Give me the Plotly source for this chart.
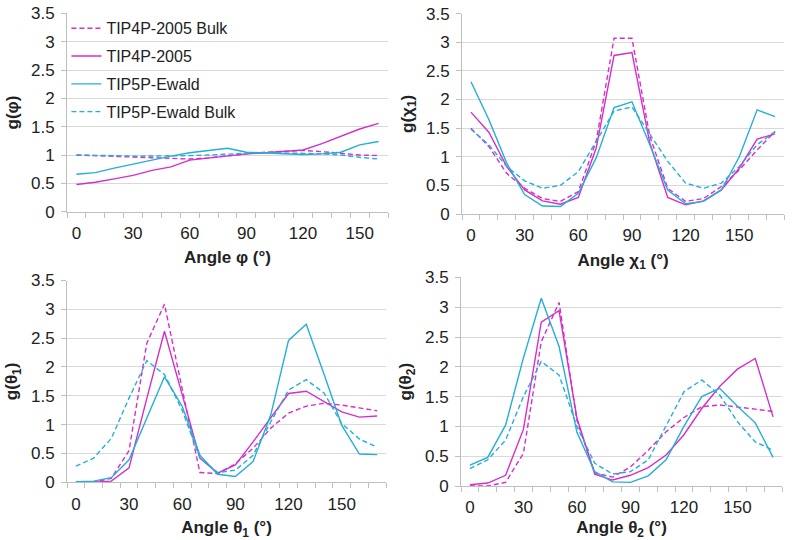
import plotly.graph_objects as go

# ---------------- data ----------------
angles_phi = [0, 10, 20, 30, 40, 50, 60, 70, 80, 90, 100, 110, 120, 130, 140, 150, 160]
angles = [0, 10, 20, 30, 40, 50, 60, 70, 80, 90, 100, 110, 120, 130, 140, 150, 160, 170]
tick_labels = [0, 30, 60, 90, 120, 150]

series_names = ["TIP4P-2005 Bulk", "TIP4P-2005", "TIP5P-Ewald", "TIP5P-Ewald Bulk"]

phi_tip4p_bulk = [1.00, 0.99, 0.98, 0.96, 0.95, 0.94, 0.93, 0.95, 0.99, 1.02, 1.05, 1.07, 1.08, 1.06, 1.03, 1.00, 0.99]
phi_tip4p = [0.48, 0.52, 0.58, 0.64, 0.73, 0.79, 0.91, 0.95, 0.99, 1.02, 1.04, 1.06, 1.09, 1.20, 1.33, 1.46, 1.56]
phi_tip5p = [0.66, 0.69, 0.77, 0.84, 0.92, 0.98, 1.04, 1.08, 1.12, 1.05, 1.04, 1.03, 1.01, 1.02, 1.05, 1.18, 1.24]
phi_tip5p_bulk = [1.00, 1.00, 0.99, 0.98, 0.98, 0.98, 0.99, 1.00, 1.02, 1.03, 1.04, 1.04, 1.03, 1.02, 1.00, 0.96, 0.93]

chi_tip4p_bulk = [1.50, 1.18, 0.71, 0.45, 0.27, 0.22, 0.39, 1.27, 3.07, 3.07, 1.36, 0.45, 0.22, 0.27, 0.48, 0.77, 1.12, 1.44]
chi_tip4p = [1.78, 1.43, 0.83, 0.42, 0.23, 0.17, 0.29, 1.15, 2.77, 2.82, 1.24, 0.29, 0.16, 0.23, 0.42, 0.80, 1.31, 1.40]
chi_tip5p = [2.31, 1.65, 0.89, 0.34, 0.14, 0.13, 0.36, 0.98, 1.86, 1.96, 1.21, 0.42, 0.18, 0.22, 0.42, 1.00, 1.82, 1.70]
chi_tip5p_bulk = [1.48, 1.21, 0.83, 0.58, 0.45, 0.50, 0.74, 1.27, 1.80, 1.87, 1.39, 0.92, 0.54, 0.45, 0.54, 0.83, 1.21, 1.44]

t1_tip4p_bulk = [0.00, 0.00, 0.07, 0.55, 2.41, 3.09, 1.62, 0.17, 0.15, 0.32, 0.59, 0.94, 1.20, 1.32, 1.37, 1.34, 1.29, 1.24]
t1_tip4p = [0.00, 0.00, 0.02, 0.25, 1.45, 2.62, 1.52, 0.42, 0.16, 0.30, 0.70, 1.13, 1.54, 1.58, 1.40, 1.22, 1.13, 1.15]
t1_tip5p = [0.01, 0.02, 0.08, 0.39, 1.11, 1.83, 1.32, 0.47, 0.14, 0.10, 0.36, 1.17, 2.46, 2.74, 1.88, 0.99, 0.49, 0.48]
t1_tip5p_bulk = [0.28, 0.42, 0.76, 1.46, 2.11, 1.87, 1.25, 0.42, 0.17, 0.21, 0.47, 1.05, 1.60, 1.78, 1.55, 1.02, 0.75, 0.61]

t2_tip4p_bulk = [0.00, 0.00, 0.06, 0.55, 2.42, 3.08, 1.10, 0.22, 0.15, 0.32, 0.60, 0.91, 1.15, 1.33, 1.36, 1.33, 1.29, 1.25]
t2_tip4p = [0.02, 0.05, 0.18, 0.95, 2.75, 2.94, 1.14, 0.20, 0.10, 0.18, 0.31, 0.52, 0.86, 1.30, 1.67, 1.96, 2.14, 1.16]
t2_tip5p = [0.35, 0.48, 1.02, 2.15, 3.15, 2.34, 0.90, 0.24, 0.07, 0.06, 0.17, 0.44, 1.00, 1.50, 1.64, 1.34, 1.06, 0.48]
t2_tip5p_bulk = [0.29, 0.44, 0.77, 1.50, 2.09, 1.86, 1.00, 0.38, 0.20, 0.24, 0.44, 1.00, 1.58, 1.78, 1.53, 1.08, 0.74, 0.60]

# ---------------- styling ----------------
MAGENTA = "#D42FCB"
CYAN = "#25AED6"
styles = [
    dict(color=MAGENTA, dash="5px,3px"),
    dict(color=MAGENTA, dash="solid"),
    dict(color=CYAN, dash="solid"),
    dict(color=CYAN, dash="5px,3px"),
]

W, H = 800, 540
# plot areas in pixels: (left, right, top, bottom)
areas = [
    (67, 388, 13.4, 211.7),
    (462, 784, 13.7, 214.0),
    (67, 386, 280.5, 482.3),
    (461, 782, 277.4, 486.0),
]

panels = [
    (angles_phi, [phi_tip4p_bulk, phi_tip4p, phi_tip5p, phi_tip5p_bulk], "Angle φ (°)", "g(φ)"),
    (angles, [chi_tip4p_bulk, chi_tip4p, chi_tip5p, chi_tip5p_bulk], "Angle χ<sub>1</sub> (°)", "g(χ<sub>1</sub>)"),
    (angles, [t1_tip4p_bulk, t1_tip4p, t1_tip5p, t1_tip5p_bulk], "Angle θ<sub>1</sub> (°)", "g(θ<sub>1</sub>)"),
    (angles, [t2_tip4p_bulk, t2_tip4p, t2_tip5p, t2_tip5p_bulk], "Angle θ<sub>2</sub> (°)", "g(θ<sub>2</sub>)"),
]

FONT = "Liberation Sans, Arial, sans-serif"
TICK_SIZE = 17
TITLE_SIZE = 17
fig = go.Figure()
layout = {}
for i, ((xs, ys_list, xtitle, ytitle), (l, r, t, b)) in enumerate(zip(panels, areas)):
    n = "" if i == 0 else str(i + 1)
    for j, ys in enumerate(ys_list):
        fig.add_trace(go.Scatter(
            x=xs, y=ys, mode="lines", name=series_names[j],
            line=dict(color=styles[j]["color"], dash=styles[j]["dash"], width=1.4),
            xaxis="x" + n, yaxis="y" + n, showlegend=(i == 0),
            legendgroup="g%d" % j,
        ))
    step = xs[1] - xs[0]
    layout["xaxis" + n] = dict(
        domain=[l / W, r / W], anchor="y" + n, automargin=False,
        range=[xs[0] - step / 2, xs[-1] + step / 2],
        tickvals=tick_labels, ticks="", showgrid=False, zeroline=False,
        showline=True, linecolor="#BFBFBF", linewidth=1,
        minor=dict(ticks="outside", tick0=xs[0] - step / 2, dtick=step, ticklen=5,
                   tickcolor="#BFBFBF", showgrid=False),
        ticklabelstandoff=6,
        tickfont=dict(family=FONT, size=TICK_SIZE, color="#222"),
        title=dict(text="<b>" + xtitle + "</b>", font=dict(family=FONT, size=TITLE_SIZE, color="#222"), standoff=9),
    )
    layout["yaxis" + n] = dict(
        domain=[1 - b / H, 1 - t / H], anchor="x" + n, automargin=False,
        range=[0, 3.5], dtick=0.5, tick0=0,
        showgrid=True, gridcolor="#D9D9D9", gridwidth=1, zeroline=False,
        showline=True, linecolor="#BFBFBF", linewidth=1,
        ticks="outside", ticklen=5, tickcolor="#BFBFBF",
        ticklabelstandoff=3,
        tickfont=dict(family=FONT, size=TICK_SIZE, color="#222"),
        title=dict(text="<b>" + ytitle + "</b>", font=dict(family=FONT, size=TITLE_SIZE, color="#222"), standoff=8),
    )

fig.update_layout(
    width=W, height=H,
    margin=dict(l=0, r=0, t=0, b=0),
    paper_bgcolor="white", plot_bgcolor="white",
    showlegend=True,
    legend=dict(x=0.083, y=0.979, xanchor="left", yanchor="top",
                bgcolor="rgba(0,0,0,0)", font=dict(family=FONT, size=16, color="#222"),
                tracegroupgap=4, itemwidth=30),
    **layout,
)

fig.write_html("out.html", config={"displayModeBar": False},
               post_script="document.body.style.margin='0';")
